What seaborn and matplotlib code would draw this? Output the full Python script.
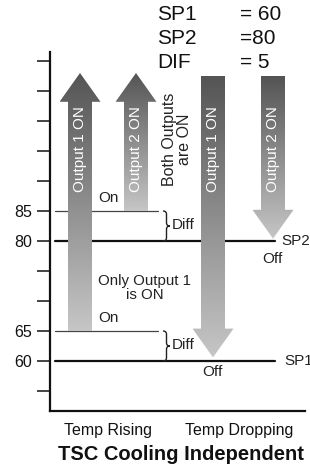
import numpy as np
import matplotlib
matplotlib.use("Agg")
import matplotlib.pyplot as plt
from matplotlib.patches import Polygon, PathPatch
from matplotlib.path import Path
from matplotlib.colors import LinearSegmentedColormap
import pandas as pd
import seaborn as sns

# values
SP1 = 60
SP2 = 80
DIF = 5
setpoints = [SP1, SP2]
on_points = [SP1 + DIF, SP2 + DIF]
tick_values = list(range(55, 111, 5))
labelled_ticks = [60, 65, 80, 85]
header_names = ["SP1", "SP2", "DIF"]
header_values = ["= 60", "=80", "= 5"]
groups = ["Temp Rising", "Temp Dropping"]
arrow_labels = ["Output 1 ON", "Output 2 ON", "Output 1 ON", "Output 2 ON"]
arrow_dirs = ["up", "up", "down", "down"]
arrow_start = [on_points[0], on_points[1], 107.5, 107.5]
arrow_end = [108, 108, setpoints[0] + 0.6, setpoints[1] + 0.4]

# layout (x in pixel-ish units from the y axis)
arrow_x = [30, 86, 163, 223]
SHAFT_W, HEAD_W, HEAD_L = 24, 41, 4.8

sns.set_style("white")
plt.rcParams["font.family"] = ["Liberation Sans", "DejaVu Sans"]

fig = plt.figure(figsize=(3.10, 4.71), dpi=100)
ax = fig.add_axes([50 / 310, 60 / 471, 255 / 310, 359 / 471])

grad_cmap = LinearSegmentedColormap.from_list("g", ["#c6c6c6", "#545454"])


def draw_arrow(ax, xc, y0, y1, direction):
    hs, hh = SHAFT_W / 2, HEAD_W / 2
    if direction == "up":
        base = y1 - HEAD_L
        pts = [(xc - hs, y0), (xc - hs, base), (xc - hh, base), (xc, y1),
               (xc + hh, base), (xc + hs, base), (xc + hs, y0)]
        lo, hi = y0, y1
    else:
        base = y1 + HEAD_L
        pts = [(xc - hs, y0), (xc - hs, base), (xc - hh, base), (xc, y1),
               (xc + hh, base), (xc + hs, base), (xc + hs, y0)]
        lo, hi = y1, y0
    poly = Polygon(pts, closed=True, facecolor="none", edgecolor="none")
    ax.add_patch(poly)
    grad = np.linspace(0, 1, 256).reshape(-1, 1)
    im = ax.imshow(grad, cmap=grad_cmap, origin="lower", aspect="auto",
                   extent=[xc - hh, xc + hh, lo, hi], zorder=3)
    im.set_clip_path(poly)


def draw_brace(ax, x, y0, y1, w=7):
    ym = (y0 + y1) / 2
    c = 0.55
    verts = [(x, y1), (x + w / 2, y1), (x + w / 2, y1 - c),
             (x + w / 2, ym + c),
             (x + w / 2, ym), (x + w, ym),
             (x + w / 2, ym), (x + w / 2, ym - c),
             (x + w / 2, y0 + c),
             (x + w / 2, y0), (x, y0)]
    codes = [Path.MOVETO, Path.CURVE3, Path.CURVE3, Path.LINETO,
             Path.CURVE3, Path.CURVE3, Path.CURVE3, Path.CURVE3,
             Path.LINETO, Path.CURVE3, Path.CURVE3]
    ax.add_patch(PathPatch(Path(verts, codes), facecolor="none",
                           edgecolor="#222222", lw=1.0, zorder=2))


# setpoint (Off) lines and On lines
sp_df = pd.DataFrame({
    "x": [5, 225] * len(setpoints),
    "temp": np.repeat(setpoints, 2),
    "line": np.repeat(["SP1", "SP2"], 2),
})
on_df = pd.DataFrame({
    "x": [5, 108] * len(on_points),
    "temp": np.repeat(on_points, 2),
    "line": np.repeat(["On1", "On2"], 2),
})
sns.lineplot(data=sp_df, x="x", y="temp", units="line", estimator=None,
             color="#111111", lw=1.6, ax=ax, zorder=2)
sns.lineplot(data=on_df, x="x", y="temp", units="line", estimator=None,
             color="#444444", lw=0.9, ax=ax, zorder=2)

for xc, y0, y1, d, lab in zip(arrow_x, arrow_start, arrow_end, arrow_dirs, arrow_labels):
    draw_arrow(ax, xc, y0, y1, d)
    ax.text(xc, 95.3, lab, rotation=90, ha="center", va="center",
            color="white", fontsize=11, zorder=4)

for sp, on in zip(setpoints, on_points):
    draw_brace(ax, 113, sp, on)
    ax.text(122, sp + 2.6, "Diff", ha="left", va="center", fontsize=11, color="#222222")
    ax.text(58, on + 2.1, "On", ha="center", va="center", fontsize=11, color="#222222")

ax.text(231, SP2, "SP2", ha="left", va="center", fontsize=11, color="#222222", clip_on=False)
ax.text(234, SP1, "SP1", ha="left", va="center", fontsize=11, color="#222222", clip_on=False)
ax.text(222, SP2 - 3.0, "Off", ha="center", va="center", fontsize=11, color="#222222")
ax.text(162, SP1 - 1.8, "Off", ha="center", va="center", fontsize=11, color="#222222")

ax.text(95, 72.2, "Only Output 1\nis ON", ha="center", va="center",
        fontsize=10.8, color="#222222", linespacing=0.95)
ax.text(127, 97, "Both Outputs\nare ON", rotation=90, ha="center", va="center",
        fontsize=11.5, color="#222222", linespacing=0.95, multialignment="center")

ax.set_xlim(0, 255)
ax.set_ylim(51.67, 111.5)
ax.set_yticks(tick_values)
ax.set_yticklabels([str(v) if v in labelled_ticks else "" for v in tick_values])
ax.set_xticks([])
ax.set_xlabel("")
ax.set_ylabel("")
ax.tick_params(axis="y", direction="out", length=9.5, width=1.1, pad=3.5,
               labelsize=11.5, colors="#111111", left=True)
for side in ["top", "right"]:
    ax.spines[side].set_visible(False)
for side in ["left", "bottom"]:
    ax.spines[side].set_color("#111111")
    ax.spines[side].set_linewidth(1.6)

# header with the settings
for i, (name, val) in enumerate(zip(header_names, header_values)):
    yy = 1 - (15 + i * 23.5) / 471
    fig.text(157 / 310, yy, name, ha="left", va="center", fontsize=15, color="#111111")
    fig.text(240 / 310, yy, val, ha="left", va="center", fontsize=15, color="#111111")

fig.text(108 / 310, 1 - 431 / 471, groups[0], ha="center", va="center", fontsize=11.5, color="#111111")
fig.text(239 / 310, 1 - 431 / 471, groups[1], ha="center", va="center", fontsize=11.5, color="#111111")
fig.text(181 / 310, 1 - 455 / 471, "TSC Cooling Independent", ha="center", va="center",
         fontsize=14.5, fontweight="bold", color="#111111")

fig.savefig("out.png", dpi=100)
